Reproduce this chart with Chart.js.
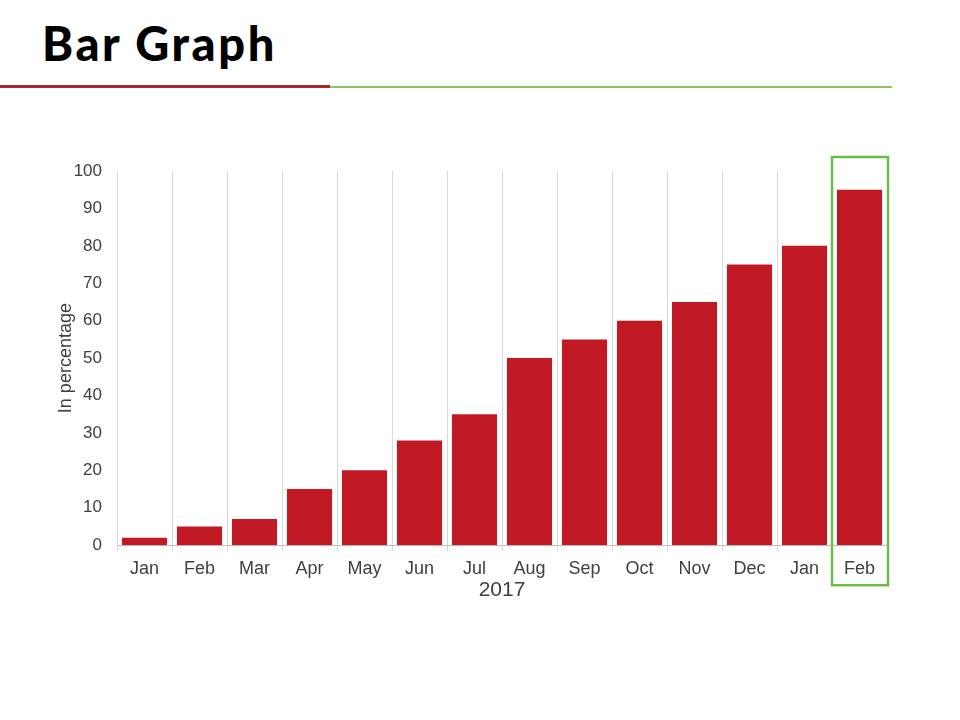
<!DOCTYPE html>
<html><head><meta charset="utf-8">
<script src="https://cdn.jsdelivr.net/npm/chart.js@4/dist/chart.umd.min.js"></script>
<style>
html,body{margin:0;padding:0;background:#fff;width:960px;height:720px;overflow:hidden;}
#title{position:absolute;left:42px;top:15px;font-family:"Lato","Liberation Sans",sans-serif;font-weight:900;font-size:47px;color:#000;letter-spacing:2.6px;}
#redline{position:absolute;left:0;top:85px;width:330px;height:3px;background:#a8282e;}
#greenline{position:absolute;left:330px;top:86px;width:562px;height:2px;background:#8cc45c;}
#wrap{position:absolute;left:0;top:0;width:960px;height:720px;}
</style></head>
<body>
<div id="title">Bar Graph</div>
<div id="redline"></div>
<div id="greenline"></div>
<div id="wrap"><canvas id="c" width="960" height="720"></canvas></div>
<script>
const categories = ["Jan","Feb","Mar","Apr","May","Jun","Jul","Aug","Sep","Oct","Nov","Dec","Jan","Feb"];
const values = [2,5,7,15,20,28,35,50,55,60,65,75,80,95];
const yTicks = [0,10,20,30,40,50,60,70,80,90,100];
const xTitle = "2017";
const yTitle = "In percentage";
const highlightIndex = 13;

const highlightPlugin = {
  id:'highlight',
  afterDraw(chart){
    const x = chart.scales.x, y = chart.scales.y, ctx = chart.ctx;
    const c = x.getPixelForValue(highlightIndex);
    const half = (x.getPixelForValue(1) - x.getPixelForValue(0))/2;
    const top = y.getPixelForValue(100) - 14;
    const bottom = y.getPixelForValue(0) + 40;
    ctx.save();
    ctx.strokeStyle = '#6cbd45';
    ctx.lineWidth = 2.5;
    ctx.strokeRect(c - half, top, half*2 + 1, bottom - top);
    ctx.restore();
  }
};

new Chart(document.getElementById('c'), {
  type:'bar',
  data:{labels:categories, datasets:[{data:values, backgroundColor:'#c21a24', barPercentage:0.82, categoryPercentage:1.0}]},
  options:{
    responsive:false, animation:false,
    layout:{padding:{left:55,top:171,right:73,bottom:117}},
    plugins:{legend:{display:false}, tooltip:{enabled:false}},
    scales:{
      x:{
        grid:{display:true, color:'#d9d9d9', offset:true, tickLength:6, drawOnChartArea:true},
        border:{display:true, color:'#bfbfbf'},
        ticks:{color:'#404040', font:{family:'"Liberation Sans", Arial, sans-serif', size:18}, padding:7},
        title:{display:true, text:xTitle, color:'#404040', font:{family:'"Liberation Sans", Arial, sans-serif', size:21}, padding:{top:-9,bottom:0}}
      },
      y:{
        min:0, max:100,
        afterBuildTicks(s){ s.ticks = yTicks.map(v=>({value:v})); },
        afterFit(s){ s.width = 62; },
        grid:{display:false},
        border:{display:false},
        ticks:{color:'#404040', font:{family:'"Liberation Sans", Arial, sans-serif', size:17}, padding:7},
        title:{display:true, text:yTitle, color:'#404040', font:{family:'"Liberation Sans", Arial, sans-serif', size:18}, padding:{top:0,bottom:0}}
      }
    }
  },
  plugins:[highlightPlugin]
});
</script>
</body></html>
